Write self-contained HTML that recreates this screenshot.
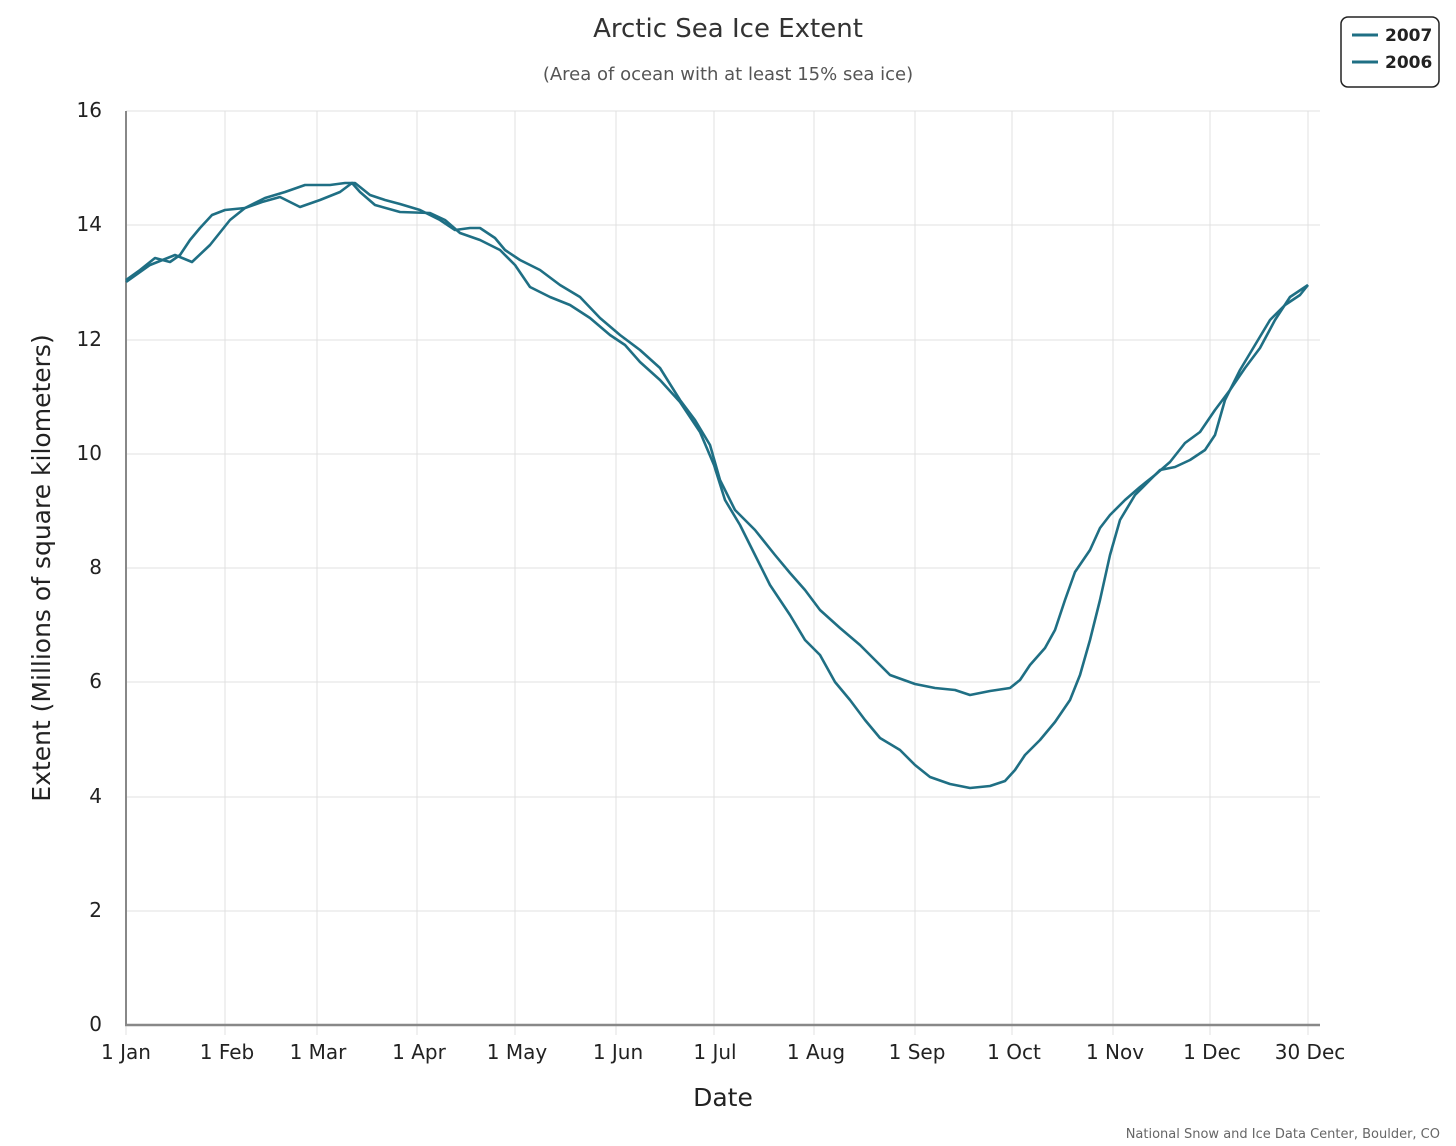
<!DOCTYPE html>
<html><head><meta charset="utf-8"><style>
html,body{margin:0;padding:0;background:#fff;}
svg{display:block;font-family:"DejaVu Sans","Liberation Sans",sans-serif;}
</style></head><body>
<svg width="1456" height="1146" viewBox="0 0 1456 1146" xmlns="http://www.w3.org/2000/svg">
<rect width="1456" height="1146" fill="#fff"/>
<text x="728" y="37" font-size="26" text-anchor="middle" fill="#333">Arctic Sea Ice Extent</text>
<text x="728" y="80" font-size="18" text-anchor="middle" fill="#555">(Area of ocean with at least 15% sea ice)</text>
<g stroke="#e0e0e0" stroke-width="1">
<line x1="126" y1="111" x2="1320" y2="111"/>
<line x1="126" y1="225" x2="1320" y2="225"/>
<line x1="126" y1="340" x2="1320" y2="340"/>
<line x1="126" y1="454" x2="1320" y2="454"/>
<line x1="126" y1="568" x2="1320" y2="568"/>
<line x1="126" y1="682" x2="1320" y2="682"/>
<line x1="126" y1="797" x2="1320" y2="797"/>
<line x1="126" y1="911" x2="1320" y2="911"/>
<line x1="225" y1="111" x2="225" y2="1035"/>
<line x1="317" y1="111" x2="317" y2="1035"/>
<line x1="417" y1="111" x2="417" y2="1035"/>
<line x1="515" y1="111" x2="515" y2="1035"/>
<line x1="616" y1="111" x2="616" y2="1035"/>
<line x1="714" y1="111" x2="714" y2="1035"/>
<line x1="814" y1="111" x2="814" y2="1035"/>
<line x1="915" y1="111" x2="915" y2="1035"/>
<line x1="1012" y1="111" x2="1012" y2="1035"/>
<line x1="1113" y1="111" x2="1113" y2="1035"/>
<line x1="1210" y1="111" x2="1210" y2="1035"/>
<line x1="1308" y1="111" x2="1308" y2="1035"/>
<line x1="126" y1="1025" x2="126" y2="1035"/>
</g>
<line x1="126" y1="111" x2="126" y2="1025" stroke="#888" stroke-width="2"/>
<line x1="125" y1="1025" x2="1320" y2="1025" stroke="#888" stroke-width="2.5"/>
<g font-size="20" fill="#222" text-anchor="end">
<text x="102" y="117">16</text><text x="102" y="231">14</text><text x="102" y="346">12</text>
<text x="102" y="460">10</text><text x="102" y="574">8</text><text x="102" y="688">6</text>
<text x="102" y="803">4</text><text x="102" y="917">2</text><text x="102" y="1031">0</text>
</g>
<g font-size="20" fill="#222" text-anchor="middle">
<text x="126" y="1059">1 Jan</text><text x="227" y="1059">1 Feb</text><text x="318" y="1059">1 Mar</text>
<text x="419" y="1059">1 Apr</text><text x="517" y="1059">1 May</text><text x="618" y="1059">1 Jun</text>
<text x="715" y="1059">1 Jul</text><text x="816" y="1059">1 Aug</text><text x="917" y="1059">1 Sep</text>
<text x="1014" y="1059">1 Oct</text><text x="1115" y="1059">1 Nov</text><text x="1212" y="1059">1 Dec</text>
<text x="1310" y="1059">30 Dec</text>
</g>
<text x="723" y="1106" font-size="25" text-anchor="middle" fill="#222">Date</text>
<text transform="translate(50,568) rotate(-90)" font-size="25" text-anchor="middle" fill="#222">Extent (Millions of square kilometers)</text>
<g fill="none" stroke="#1f6f84" stroke-width="2.6" stroke-linejoin="round">
<polyline points="126,282 150,265 175,255 192,262 210,245 230,220 245,208 262,202 280,197 300,207 320,200 340,192 352,183 360,192 375,205 400,212 430,213 445,220 460,233 480,240 500,250 515,265 530,287 550,297 570,305 590,318 610,335 625,345 640,362 660,380 680,402 700,432 714,465 725,500 740,525 755,555 770,585 790,615 805,640 820,655 835,682 850,700 865,720 880,738 900,750 915,765 930,777 950,784 970,788 990,786 1005,781 1015,770 1025,755 1040,740 1055,722 1070,700 1080,675 1090,640 1100,600 1110,555 1120,520 1135,495 1150,480 1160,470 1175,467 1190,460 1205,450 1215,435 1225,400 1240,370 1255,345 1270,320 1285,305 1300,295 1308,285"/>
<polyline points="126,280 140,270 155,258 170,262 180,255 190,240 200,228 212,215 225,210 245,208 265,198 285,192 305,185 330,185 345,183 355,183 370,195 385,200 400,204 420,210 440,220 455,230 470,228 480,228 495,238 505,250 520,260 540,270 560,285 580,297 600,318 620,335 640,350 660,368 680,400 695,420 710,445 720,480 735,510 755,530 775,555 790,573 805,590 820,610 840,628 860,645 875,660 890,675 915,684 935,688 955,690 970,695 990,691 1010,688 1020,680 1030,665 1045,648 1055,630 1065,600 1075,572 1090,550 1100,528 1110,515 1125,500 1140,487 1155,475 1170,462 1185,443 1200,432 1215,410 1230,390 1245,368 1260,348 1275,320 1290,297 1308,285"/>
</g>
<rect x="1341" y="17" width="98" height="70" rx="7" fill="#fff" stroke="#222" stroke-width="1.5"/>
<line x1="1352" y1="35" x2="1378" y2="35" stroke="#1f6f84" stroke-width="3"/>
<line x1="1352" y1="62" x2="1378" y2="62" stroke="#1f6f84" stroke-width="3"/>
<text x="1385" y="41" font-size="17" font-weight="bold" fill="#222">2007</text>
<text x="1385" y="68" font-size="17" font-weight="bold" fill="#222">2006</text>
<text x="1440" y="1138" font-size="13" text-anchor="end" fill="#666">National Snow and Ice Data Center, Boulder, CO</text>
</svg>
</body></html>
